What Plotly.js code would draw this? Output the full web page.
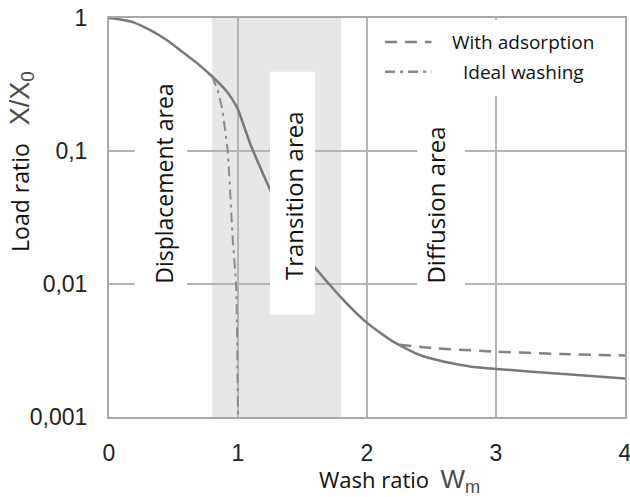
<!DOCTYPE html>
<html>
<head>
<meta charset="utf-8">
<script src="https://cdn.plot.ly/plotly-3.0.1.min.js"></script>
<style>html,body{margin:0;padding:0;background:#fff;}#chart{width:630px;height:497px;}</style>
</head>
<body>
<div id="chart"></div>
<script>
// Main washing curve (Load ratio X/X0 vs wash ratio Wm)
const mainX = [0, 0.1, 0.2, 0.32, 0.45, 0.55, 0.68, 0.8, 0.9, 0.95, 1.0, 1.05, 1.1, 1.17, 1.25, 1.4, 1.5, 1.6, 1.8, 2.0, 2.2, 2.4, 2.6, 2.8, 3.0, 3.5, 4.0];
const mainY = [1, 0.97, 0.92, 0.81, 0.68, 0.575, 0.46, 0.363, 0.29, 0.25, 0.205, 0.15, 0.11, 0.076, 0.051, 0.0263, 0.0182, 0.0132, 0.0079, 0.0051, 0.0037, 0.00295, 0.0026, 0.0024, 0.0023, 0.00211, 0.00195];
// With adsorption branch
const adsX = [2.25, 2.5, 3.0, 3.5, 4.0];
const adsY = [0.0035, 0.0033, 0.0031, 0.00298, 0.0029];
// Ideal washing branch
const idealX = [0.8, 0.84, 0.876, 0.92, 0.96, 0.985, 0.995, 1.0];
const idealY = [0.363, 0.29, 0.21, 0.1, 0.021, 0.01, 0.003, 0.001];
// Axis ticks
const xTickVals = [0, 1, 2, 3, 4];
const xTickText = ["0", "1", "2", "3", "4"];
const yTickVals = [1, 0.1, 0.01, 0.001];
const yTickText = ["1", "0,1", "0,01", "0,001"];
// Areas
const shadeRange = [0.8, 1.8];
const areaLabels = ["Displacement area", "Transition area", "Diffusion area"];
const legendLabels = ["With adsorption", "Ideal washing"];

const curveColor = "#787878";
const gridColor = "#b4b4b4";
const txtFont = "Open Sans, DejaVu Sans, sans-serif";
const numFont = "Liberation Sans, Arial, sans-serif";
const dashPat = "12px,8px";
const dashDotPat = "10px,5px,3px,5px";

const traces = [
  {x: mainX, y: mainY, mode: "lines", line: {color: curveColor, width: 2.5, shape: "spline", smoothing: 0.5}, showlegend: false, hoverinfo: "skip"},
  {x: adsX, y: adsY, mode: "lines", name: legendLabels[0], line: {color: "#828282", width: 2.5, dash: dashPat, shape: "spline", smoothing: 0.5}, showlegend: false},
  {x: idealX, y: idealY, mode: "lines", name: legendLabels[1], line: {color: "#8a8a8a", width: 2, dash: dashDotPat, shape: "spline", smoothing: 0.5}, showlegend: false}
];

function box(x0, x1, y0, y1) {
  return {type: "rect", xref: "x", yref: "paper", x0: x0, x1: x1, y0: y0, y1: y1, fillcolor: "#ffffff", line: {width: 0}, layer: "above"};
}

const shapes = [
  {type: "rect", xref: "x", yref: "paper", x0: shadeRange[0], x1: shadeRange[1], y0: 0, y1: 1, fillcolor: "#e7e7e7", line: {width: 0}, layer: "below"},
  box(0.2, 0.605, 0.30, 0.86),
  box(1.248, 1.597, 0.256, 0.865),
  box(2.39, 2.76, 0.31, 0.76),
  box(2.03, 3.985, 0.805, 0.995),
  {type: "line", xref: "x", yref: "paper", x0: 2.14, x1: 2.5, y0: 0.94, y1: 0.94, line: {color: "#828282", width: 2.5, dash: dashPat}, layer: "above"},
  {type: "line", xref: "x", yref: "paper", x0: 2.14, x1: 2.5, y0: 0.865, y1: 0.865, line: {color: "#8a8a8a", width: 2.5, dash: dashDotPat}, layer: "above"}
];

const annotations = [
  {xref: "x", yref: "paper", x: 0.42, y: 0.585, xanchor: "center", yanchor: "middle", text: areaLabels[0], textangle: -90, showarrow: false, font: {family: txtFont, size: 23, color: "#111"}},
  {xref: "x", yref: "paper", x: 1.43, y: 0.555, xanchor: "center", yanchor: "middle", text: areaLabels[1], textangle: -90, showarrow: false, font: {family: txtFont, size: 24, color: "#111"}},
  {xref: "x", yref: "paper", x: 2.535, y: 0.53, xanchor: "center", yanchor: "middle", text: areaLabels[2], textangle: -90, showarrow: false, font: {family: txtFont, size: 24, color: "#111"}},
  {xref: "x", yref: "paper", x: 3.21, y: 0.94, xanchor: "center", yanchor: "middle", text: legendLabels[0], showarrow: false, font: {family: txtFont, size: 19, color: "#111"}},
  {xref: "x", yref: "paper", x: 3.21, y: 0.865, xanchor: "center", yanchor: "middle", text: legendLabels[1], showarrow: false, font: {family: txtFont, size: 19, color: "#111"}},
  {xref: "paper", yref: "paper", x: -0.17, y: 0.64, xanchor: "center", yanchor: "middle", text: "Load ratio   <span style='font-family:Liberation Sans;color:#4a4a4a;font-size:27px'>X/X<sub>0</sub></span>", textangle: -90, showarrow: false, font: {family: txtFont, size: 23, color: "#111"}},
  {xref: "paper", yref: "paper", x: 0.403, y: -0.158, xanchor: "left", yanchor: "middle", text: "Wash ratio  <span style='font-family:Liberation Sans;color:#4a4a4a;font-size:26px'>W<sub>m</sub></span>", showarrow: false, font: {family: txtFont, size: 22, color: "#111"}}
];

const layout = {
  width: 630, height: 497,
  margin: {l: 109, r: 5, t: 18, b: 80, pad: 0},
  paper_bgcolor: "#ffffff", plot_bgcolor: "#ffffff",
  showlegend: false,
  xaxis: {range: [0, 4], tickvals: xTickVals, ticktext: xTickText, showgrid: true, gridcolor: gridColor, gridwidth: 2,
          showline: true, mirror: true, linecolor: "#a8a8a8", linewidth: 2, ticks: "", zeroline: false,
          ticklabelstandoff: 14, ticklabeloverflow: "allow", tickfont: {family: numFont, size: 23, color: "#222"}},
  yaxis: {type: "log", range: [-3, 0], tickvals: yTickVals, ticktext: yTickText, showgrid: true, gridcolor: gridColor, gridwidth: 2,
          showline: true, mirror: true, linecolor: "#a8a8a8", linewidth: 2, ticks: "", zeroline: false,
          ticklabelstandoff: 15, ticklabeloverflow: "allow", tickfont: {family: numFont, size: 23, color: "#222"}},
  shapes: shapes,
  annotations: annotations
};

Plotly.newPlot("chart", traces, layout, {staticPlot: true, displayModeBar: false});
</script>
</body>
</html>
